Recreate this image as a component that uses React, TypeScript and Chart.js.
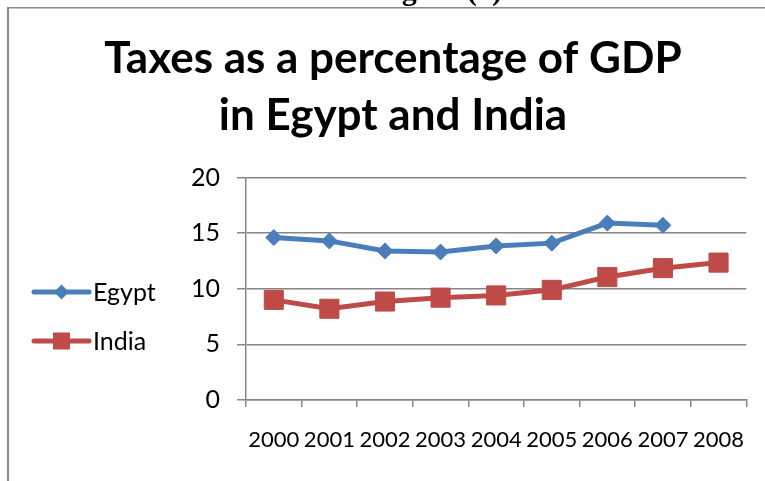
import React, { useEffect, useRef } from "react";
import { Chart, registerables } from "chart.js";

Chart.register(...registerables);

const years = ["2000", "2001", "2002", "2003", "2004", "2005", "2006", "2007", "2008"];
const egypt = [14.6, 14.3, 13.4, 13.3, 13.85, 14.1, 15.9, 15.7, null];
const india = [9.0, 8.2, 8.85, 9.2, 9.4, 9.9, 11.05, 11.85, 12.35];
const seriesNames = ["Egypt", "India"];
const titleLines = ["Taxes as a percentage of GDP", "in Egypt and India"];
const figureLabel = "Figure (6)";
const yMin = 0;
const yMax = 20;
const yStep = 5;

const BLUE = "#4A7EBB";
const RED = "#BE4B48";
const GRID = "#868686";
const FONT = "Lato, 'Open Sans', sans-serif";
const TICK_SIZE = 25;
const XTICK_SIZE = 22;

const framePlugin = {
  id: "frame",
  beforeDraw(chart: any) {
    const ctx = chart.ctx;
    ctx.save();
    ctx.fillStyle = "#ffffff";
    ctx.fillRect(0, 0, chart.width, chart.height);
    ctx.fillStyle = "#888888";
    ctx.fillRect(7, 7, 2, chart.height - 7);
    ctx.fillRect(7, 7, chart.width - 7, 1.5);
    ctx.restore();
  },
  afterDraw(chart: any) {
    const ctx = chart.ctx;
    ctx.save();
    ctx.fillStyle = "#000";
    ctx.font = "bold 30px 'Liberation Serif', serif";
    ctx.textBaseline = "alphabetic";
    ctx.textAlign = "left";
    ctx.fillText(figureLabel, 375, 0);
    ctx.restore();
  },
};

const legendPlugin = {
  id: "sideLegend",
  afterDraw(chart: any) {
    const ctx = chart.ctx;
    chart.data.datasets.forEach((ds: any, i: number) => {
      const y = 292 + i * 49;
      const x0 = 34;
      const x1 = 89;
      const cx = (x0 + x1) / 2;
      ctx.save();
      ctx.strokeStyle = ds.borderColor;
      ctx.lineWidth = ds.borderWidth;
      ctx.lineCap = "round";
      ctx.beginPath();
      ctx.moveTo(x0, y);
      ctx.lineTo(x1, y);
      ctx.stroke();
      ctx.fillStyle = ds.pointBackgroundColor;
      ctx.beginPath();
      if (ds.pointStyle === "rectRot") {
        const r = 7.5;
        ctx.moveTo(cx - r, y);
        ctx.lineTo(cx, y - r);
        ctx.lineTo(cx + r, y);
        ctx.lineTo(cx, y + r);
        ctx.closePath();
      } else {
        const s = 8.5;
        ctx.rect(cx - s, y - s, 2 * s, 2 * s);
      }
      ctx.fill();
      ctx.fillStyle = "#000";
      ctx.font = `${TICK_SIZE}px ${FONT}`;
      ctx.textBaseline = "middle";
      ctx.textAlign = "left";
      ctx.fillText(ds.label, 93, y + 1);
      ctx.restore();
    });
  },
};

export default function App() {
  const ref = useRef<HTMLCanvasElement | null>(null);
  useEffect(() => {
    if (!ref.current) return;
    const chart = new Chart(ref.current, {
      type: "line",
      data: {
        labels: years,
        datasets: [
          {
            label: seriesNames[0],
            data: egypt,
            borderColor: BLUE,
            backgroundColor: BLUE,
            pointBackgroundColor: BLUE,
            pointBorderColor: BLUE,
            borderWidth: 5,
            pointStyle: "rectRot",
            pointRadius: 8,
            pointBorderWidth: 1,
            tension: 0,
          },
          {
            label: seriesNames[1],
            data: india,
            borderColor: RED,
            backgroundColor: RED,
            pointBackgroundColor: RED,
            pointBorderColor: RED,
            borderWidth: 5,
            pointStyle: "rect",
            pointRadius: 13.5,
            pointBorderWidth: 1,
            tension: 0,
          },
        ],
      },
      options: {
        animation: false,
        responsive: false,
        devicePixelRatio: 1,
        layout: { padding: { left: 38, right: 17, top: 0, bottom: 0 } },
        plugins: {
          legend: { display: false },
          tooltip: { enabled: false },
          title: {
            display: true,
            text: titleLines,
            color: "#000",
            font: { family: FONT, size: 44, weight: "bold", lineHeight: 57 / 44 },
            padding: { top: 30, bottom: 33.5 },
          },
        },
        scales: {
          x: {
            offset: true,
            grid: {
              offset: true,
              drawOnChartArea: false,
              drawTicks: true,
              tickLength: 7,
              color: GRID,
              lineWidth: 1.5,
            },
            border: { display: true, color: GRID, width: 1.5 },
            ticks: {
              color: "#000",
              font: { family: FONT, size: XTICK_SIZE },
              padding: 20,
              maxRotation: 0,
              minRotation: 0,
              autoSkip: false,
            },
            afterFit(scale: any) {
              scale.height = 81;
            },
          },
          y: {
            min: yMin,
            max: yMax,
            grid: {
              color: GRID,
              lineWidth: 1.5,
              tickLength: 9,
              drawTicks: true,
            },
            border: { display: true, color: GRID, width: 1.5 },
            ticks: {
              stepSize: yStep,
              color: "#000",
              font: { family: FONT, size: TICK_SIZE },
              padding: 17,
            },
            afterFit(scale: any) {
              scale.width = 208;
            },
          },
        },
      },
      plugins: [framePlugin, legendPlugin],
    });
    return () => chart.destroy();
  }, []);
  return (
    <canvas
      ref={ref}
      width={765}
      height={481}
      style={{ position: "fixed", left: 0, top: 0, width: 765, height: 481 }}
    />
  );
}
